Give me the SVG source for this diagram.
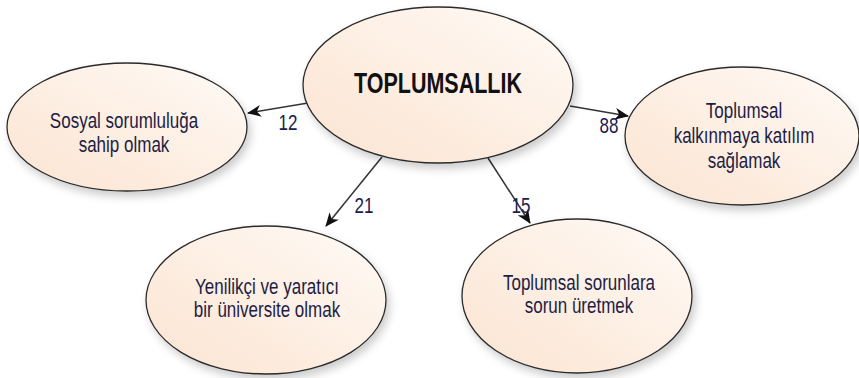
<svg xmlns="http://www.w3.org/2000/svg" width="859" height="378" viewBox="0 0 859 378">
  <defs>
    <linearGradient id="fillGrad" x1="1" y1="0" x2="0" y2="1">
      <stop offset="0" stop-color="#fffaf6"/>
      <stop offset="1" stop-color="#fbe4d1"/>
    </linearGradient>
    <filter id="shadow" x="-20%" y="-20%" width="140%" height="150%">
      <feDropShadow dx="3" dy="5" stdDeviation="4" flood-color="#000" flood-opacity="0.2"/>
    </filter>
    <marker id="arrow" viewBox="0 0 14 12" refX="13" refY="6" markerWidth="14" markerHeight="12" markerUnits="userSpaceOnUse" orient="auto">
      <path d="M0,0 L14,6 L0,12 L4,6 Z" fill="#111"/>
    </marker>
  </defs>
  <style>
    .node ellipse { fill: url(#fillGrad); stroke: #2b2b2b; stroke-width: 1.3; filter: url(#shadow); }
    .lbl { font-family: "Liberation Sans", Arial, sans-serif; font-size: 17px; fill: #1d1d45; text-anchor: middle; }
    .title { font-family: "Liberation Sans", Arial, sans-serif; font-size: 21.5px; font-weight: bold; fill: #111; text-anchor: middle; }
    .edge { stroke: #333; stroke-width: 1.5; fill: none; marker-end: url(#arrow); }
    .num { font-family: "Liberation Sans", Arial, sans-serif; font-size: 17px; fill: #1a2050; text-anchor: middle; }
  </style>
  <rect width="859" height="378" fill="#ffffff"/>

  <g id="connectors">
    <line class="edge" x1="308" y1="103" x2="248" y2="113"/>
    <line class="edge" x1="570" y1="106" x2="628" y2="116"/>
    <line class="edge" x1="382" y1="157" x2="326" y2="226"/>
    <line class="edge" x1="488" y1="158" x2="530" y2="223"/>
    <g transform="translate(288,130) scale(1,1.35)"><text class="num" x="0" y="0">12</text></g>
    <g transform="translate(609,133) scale(1,1.35)"><text class="num" x="0" y="0">88</text></g>
    <g transform="translate(364,213) scale(1,1.35)"><text class="num" x="0" y="0">21</text></g>
    <g transform="translate(521,213) scale(1,1.35)"><text class="num" x="0" y="0">15</text></g>
  </g>

  <g id="node-center" class="node">
    <ellipse cx="438" cy="85" rx="135" ry="78"/>
    <g transform="translate(438,93) scale(1,1.4)"><text class="title" x="0" y="0">TOPLUMSALLIK</text></g>
  </g>

  <g id="node-sosyal" class="node">
    <ellipse cx="127" cy="127" rx="120" ry="64"/>
    <g transform="translate(124,128) scale(1,1.35)"><text class="lbl" x="0" y="0">Sosyal sorumluluğa</text></g>
    <g transform="translate(124,152) scale(1,1.35)"><text class="lbl" x="0" y="0">sahip olmak</text></g>
  </g>

  <g id="node-kalkinma" class="node">
    <ellipse cx="742" cy="136" rx="117" ry="69"/>
    <g transform="translate(744,118) scale(1,1.35)"><text class="lbl" x="0" y="0">Toplumsal</text></g>
    <g transform="translate(744,143) scale(1,1.35)"><text class="lbl" x="0" y="0">kalkınmaya katılım</text></g>
    <g transform="translate(744,168) scale(1,1.35)"><text class="lbl" x="0" y="0">sağlamak</text></g>
  </g>

  <g id="node-yenilikci" class="node">
    <ellipse cx="266" cy="300" rx="120" ry="74"/>
    <g transform="translate(267,294) scale(1,1.35)"><text class="lbl" x="0" y="0">Yenilikçi ve yaratıcı</text></g>
    <g transform="translate(267,317) scale(1,1.35)"><text class="lbl" x="0" y="0">bir üniversite olmak</text></g>
  </g>

  <g id="node-sorunlar" class="node">
    <ellipse cx="577" cy="296" rx="115" ry="77"/>
    <g transform="translate(579,290) scale(1,1.35)"><text class="lbl" x="0" y="0">Toplumsal sorunlara</text></g>
    <g transform="translate(579,313) scale(1,1.35)"><text class="lbl" x="0" y="0">sorun üretmek</text></g>
  </g>
</svg>
